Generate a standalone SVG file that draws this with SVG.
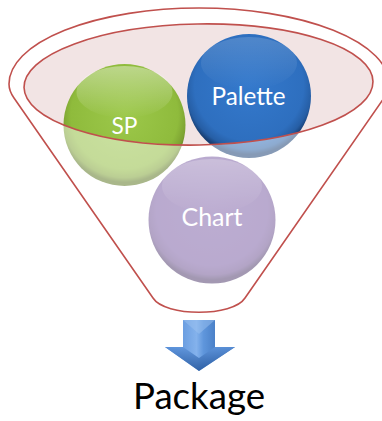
<svg xmlns="http://www.w3.org/2000/svg" width="382" height="421" viewBox="0 0 382 421">
<style>
.lbl{font-family:Lato,"Liberation Sans",sans-serif;fill:#ffffff;text-anchor:middle}
.red{stroke:#c0504d;stroke-width:1.6;fill:none}
</style>
<defs>
<radialGradient id="gG" cx="50%" cy="42%" r="55%">
<stop offset="0" stop-color="#9cc84a"/><stop offset="0.8" stop-color="#8fbb3c"/><stop offset="0.93" stop-color="#7da232"/><stop offset="1" stop-color="#5a7520"/>
</radialGradient>
<radialGradient id="gB" cx="50%" cy="42%" r="55%">
<stop offset="0" stop-color="#3479cc"/><stop offset="0.8" stop-color="#2e6fbf"/><stop offset="0.93" stop-color="#265ea5"/><stop offset="1" stop-color="#183f74"/>
</radialGradient>
<radialGradient id="gP" cx="50%" cy="42%" r="55%">
<stop offset="0" stop-color="#7f62a8"/><stop offset="0.8" stop-color="#7a5ca3"/><stop offset="0.93" stop-color="#6d5292"/><stop offset="1" stop-color="#4f3b6c"/>
</radialGradient>
<linearGradient id="hl" x1="0" y1="0" x2="0" y2="1">
<stop offset="0" stop-color="#ffffff" stop-opacity="0.4"/><stop offset="1" stop-color="#ffffff" stop-opacity="0"/>
</linearGradient>
<linearGradient id="arrS" x1="0" y1="0" x2="1" y2="0">
<stop offset="0" stop-color="#4a84d2"/><stop offset="0.45" stop-color="#84b2ec"/><stop offset="0.55" stop-color="#5f96dc"/><stop offset="1" stop-color="#285ca4"/>
</linearGradient>
<linearGradient id="arrH" x1="0" y1="0" x2="0" y2="1">
<stop offset="0" stop-color="#5f95dc"/><stop offset="1" stop-color="#24559a"/>
</linearGradient>
</defs>

<g id="funnel-back">
<ellipse cx="198.5" cy="84.5" rx="174.5" ry="60.5" transform="rotate(-1 198.5 84.5)" fill="#f2e4e4"/>
</g>

<g id="sp">
<circle cx="124.5" cy="125" r="61" fill="url(#gG)"/>
<ellipse cx="124.5" cy="92" rx="48" ry="26" fill="url(#hl)"/>
<text class="lbl" x="124.5" y="134" font-size="24" textLength="26" lengthAdjust="spacingAndGlyphs">SP</text>
</g>

<g id="palette">
<circle cx="249" cy="96" r="62" fill="url(#gB)"/>
<ellipse cx="249" cy="63" rx="48" ry="26" fill="url(#hl)" opacity="0.4"/>
<text class="lbl" x="248.5" y="105" font-size="25" textLength="74" lengthAdjust="spacingAndGlyphs">Palette</text>
</g>

<g id="chart">
<circle cx="212" cy="220" r="63.5" fill="url(#gP)"/>
<ellipse cx="212" cy="186" rx="50" ry="27" fill="url(#hl)" opacity="0.6"/>
<text class="lbl" x="212" y="226" font-size="25" textLength="61" lengthAdjust="spacingAndGlyphs">Chart</text>
</g>

<g id="funnel-front">
<path d="M153,298 L14,98 Q9,91 9,84 A190,76 0 0 1 389,84 Q389,91 384,98 L245,298 C233,317 165,317 153,298 Z M373,81.5 A174.5,60.5 -1 0 0 24,87.5 A174.5,60.5 -1 0 0 373,81.5 Z" fill="#ffffff" fill-opacity="0.48" fill-rule="evenodd" stroke="none"/>
<path class="red" d="M153,298 L14,98 Q9,91 9,84 A190,76 0 0 1 389,84 Q389,91 384,98 L245,298 C233,317 165,317 153,298 Z"/>
<ellipse class="red" cx="198.5" cy="84.5" rx="174.5" ry="60.5" transform="rotate(-1 198.5 84.5)"/>
</g>

<g id="connectors">
<g id="arrow">
<polygon points="183,320 215,320 215,347 235,347 199,371 165,347 183,347" fill="url(#arrS)"/>
<polygon points="165,347 183,347 199,358 215,347 235,347 199,371" fill="url(#arrH)" opacity="0.85"/>
<polygon points="183,320 215,320 199,334" fill="#9cc2ef" opacity="0.5"/>
</g>
</g>

<g id="package">
<text x="199" y="409" font-family="Lato,'Liberation Sans',sans-serif" font-size="36" fill="#000000" text-anchor="middle" textLength="132" lengthAdjust="spacingAndGlyphs">Package</text>
</g>
</svg>
